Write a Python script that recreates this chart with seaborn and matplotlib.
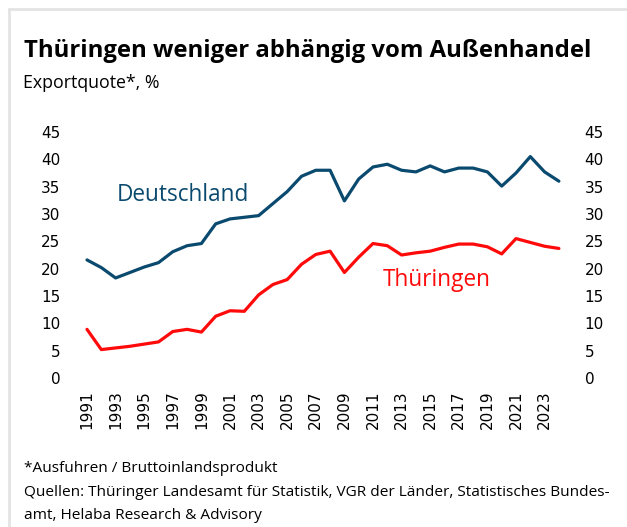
import matplotlib
matplotlib.use('Agg')
import matplotlib.pyplot as plt
import pandas as pd
import seaborn as sns
from matplotlib.lines import Line2D

# Data
years = list(range(1991, 2025))
deutschland = [21.6, 20.2, 18.3, 19.3, 20.3, 21.1, 23.1, 24.2, 24.6, 28.2,
               29.1, 29.4, 29.7, 31.9, 34.1, 36.9, 38.0, 38.0, 32.4, 36.4,
               38.6, 39.1, 38.0, 37.7, 38.8, 37.7, 38.4, 38.4, 37.7, 35.1,
               37.5, 40.5, 37.7, 36.0]
thueringen = [8.9, 5.2, 5.5, 5.8, 6.2, 6.6, 8.5, 8.9, 8.4, 11.3,
              12.3, 12.2, 15.2, 17.1, 18.0, 20.8, 22.6, 23.2, 19.3, 22.1,
              24.6, 24.2, 22.5, 22.9, 23.2, 23.9, 24.5, 24.5, 24.0, 22.7,
              25.5, 24.8, 24.1, 23.7]
x_ticks = list(range(1991, 2024, 2))
y_ticks = list(range(0, 50, 5))

df = pd.DataFrame({'Jahr': years * 2,
                   'Wert': deutschland + thueringen,
                   'Region': ['Deutschland'] * len(years) + ['Thüringen'] * len(years)})

blue = '#0b4a6f'
red = '#ff0a0a'

sns.set_theme(style='white')
plt.rcParams['font.family'] = ['DejaVu Sans']
plt.rcParams['text.color'] = 'black'

fig = plt.figure(figsize=(6.27, 5.27), dpi=100)
ax = fig.add_axes([70 / 627, 149 / 527, 505 / 627, 246 / 527])

sns.lineplot(data=df, x='Jahr', y='Wert', hue='Region',
             palette={'Deutschland': blue, 'Thüringen': red},
             linewidth=2.3, legend=False, ax=ax)

# x range so that 1991 sits at ~87 px and 2024 at ~559 px
ax.set_xlim(1991 - 17 / 14.3, 1991 + (575 - 87) / 14.3)
ax.set_ylim(0, 45)
ax.set_xticks(x_ticks)
ax.set_xticklabels([str(y) for y in x_ticks], rotation=90)
ax.set_yticks(y_ticks)
ax.tick_params(axis='both', length=0, labelsize=11, colors='black')
ax.tick_params(axis='y', labelright=True, pad=7)
ax.tick_params(axis='x', pad=9)
ax.set_xlabel('')
ax.set_ylabel('')
for s in ax.spines.values():
    s.set_visible(False)

ax.text(1993.1, 32.4, 'Deutschland', color=blue, fontsize=16.3,
        family='Open Sans')
ax.text(2011.7, 16.8, 'Thüringen', color=red, fontsize=16.3,
        family='Open Sans')

# Title, subtitle and notes
fig.text(24 / 627, 1 - 57 / 527, 'Thüringen weniger abhängig vom Außenhandel',
         fontsize=17.2, fontweight='bold', family='Open Sans')
fig.text(23 / 627, 1 - 88 / 527, 'Exportquote*, %', fontsize=12.8,
         family='Open Sans')
fig.text(24 / 627, 1 - 472 / 527, '*Ausfuhren / Bruttoinlandsprodukt',
         fontsize=11.1, family='Open Sans')
fig.text(24 / 627, 1 - 496 / 527,
         'Quellen: Thüringer Landesamt für Statistik, VGR der Länder, Statistisches Bundes-',
         fontsize=11.1, family='Open Sans')
fig.text(24 / 627, 1 - 519 / 527, 'amt, Helaba Research & Advisory',
         fontsize=11.1, family='Open Sans')

# light grey frame lines (top and left)
fig.add_artist(Line2D([9 / 627, 626 / 627], [1 - 9 / 527, 1 - 9 / 527],
                      transform=fig.transFigure, color='#e3e3e3', linewidth=2))
fig.add_artist(Line2D([9 / 627, 9 / 627], [0, 1 - 9 / 527],
                      transform=fig.transFigure, color='#e3e3e3', linewidth=2))

fig.savefig('out.png', dpi=100)
